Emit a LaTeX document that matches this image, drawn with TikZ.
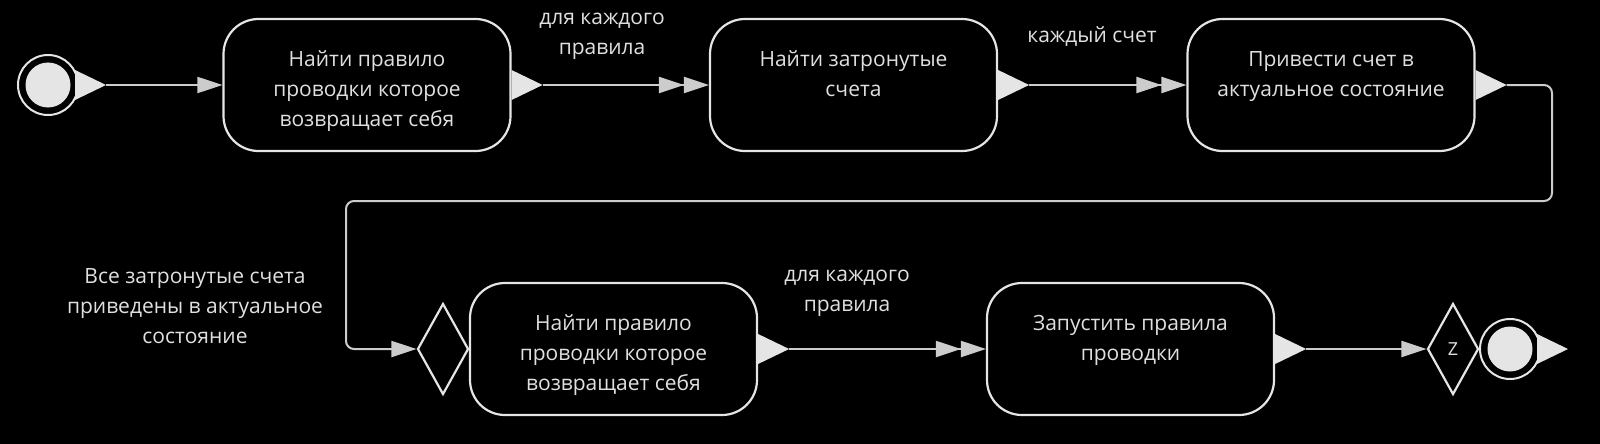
\documentclass[tikz,border=0pt]{standalone}
\usepackage{fontspec}
\setmainfont{Open Sans}
\usetikzlibrary{arrows.meta,shapes.geometric}

\def\portshape{++(0,-15) -- ++(31,15) -- ++(-31,15) -- cycle}
\colorlet{step edge}{black!10}
\colorlet{flow line}{black!20}
\colorlet{port area}{black!10}
\colorlet{label text}{black!12}
\tikzset{stepbox/.style={draw=step edge, line width=2.2pt, rounded corners=35pt,
      minimum width=287pt, minimum height=132pt, inner sep=0pt},
    steptext/.style={text=label text, align=center, inner sep=0pt, anchor=north,
      font=\fontsize{21}{30}\selectfont},
    flowlabel/.style={text=label text, align=center, inner sep=0pt,
      font=\fontsize{21}{30}\selectfont},
    flow/.style={draw=flow line, line width=2pt, -{Triangle[length=25pt,width=16pt]}},
    eachflow/.style={flow, -{Triangle[length=25pt,width=16pt] Triangle[length=25pt,width=16pt]}},
    port/.style={fill=port area},
    choice/.style={diamond, draw=step edge, line width=2.2pt, minimum width=51pt,
      minimum height=91pt, inner sep=0pt, text=label text, font=\fontsize{18}{20}\selectfont},
    terminal/.style={circle, draw=step edge, line width=2pt, minimum size=60pt, inner sep=0pt}}

\begin{document}
\begin{tikzpicture}[x=1pt, y=-1pt]
  \useasboundingbox[fill=black] (0,0) rectangle (1600,444);
  % steps
  \node[stepbox] (rule1) at (367,85) {};
  \node[stepbox] (accounts) at (853.5,85) {};
  \node[stepbox] (actualize) at (1331,85) {};
  \node[stepbox] (rule2) at (613.5,349) {};
  \node[stepbox] (run) at (1130.5,349) {};
  \node[steptext] (rule1-text) at ([yshift=-33pt]rule1.north) {Найти правило\\проводки которое\\возвращает себя};
  \node[steptext] (accounts-text) at ([yshift=-33pt]accounts.north) {Найти затронутые\\счета};
  \node[steptext] (actualize-text) at ([yshift=-33pt]actualize.north) {Привести счет в\\актуальное состояние};
  \node[steptext] (rule2-text) at ([yshift=-33pt]rule2.north) {Найти правило\\проводки которое\\возвращает себя};
  \node[steptext] (run-text) at ([yshift=-33pt]run.north) {Запустить правила\\проводки};
  \foreach \b in {rule1,accounts,actualize,rule2,run} {
    \fill[port] (\b.east) \portshape;
    \coordinate (\b-out) at ([xshift=31pt]\b.east);
  }
  % start, merge and end
  \node[terminal] (start) at (48,85) {};
  \fill[port] (start) circle (22.5pt);
  \fill[port] ([xshift=-4pt]start.east) \portshape;
  \coordinate (start-out) at ([xshift=27pt]start.east);
  \node[choice] (merge) at (443,349) {};
  \node[choice] (done) at (1453,349) {Z};
  \node[terminal] (finish) at (1510,349) {};
  \fill[port] (finish) circle (22.5pt);
  \fill[port] ([xshift=-4pt]finish.east) \portshape;
  % flows
  \coordinate (loop-right) at (1552,201);
  \coordinate (loop-left) at (346,201);
  \draw[flow] (start-out) -- (rule1.west);
  \draw[eachflow] (rule1-out) -- (accounts.west);
  \draw[eachflow] (accounts-out) -- (actualize.west);
  \draw[flow, rounded corners=8pt] (actualize-out) -| (loop-right) -- (loop-left) |- (merge.west);
  \draw[eachflow] (rule2-out) -- (run.west);
  \draw[flow] (run-out) -- (done.west);
  % labels
  \node[flowlabel] (each-rule) at (602,36) {для каждого\\правила};
  \node[flowlabel] (each-account) at (1092,37) {каждый счет};
  \node[flowlabel] (all-actual) at (195,306) {Все затронутые счета\\приведены в актуальное\\состояние};
  \node[flowlabel] (each-rule-next) at (847,293) {для каждого\\правила};
\end{tikzpicture}
\end{document}
